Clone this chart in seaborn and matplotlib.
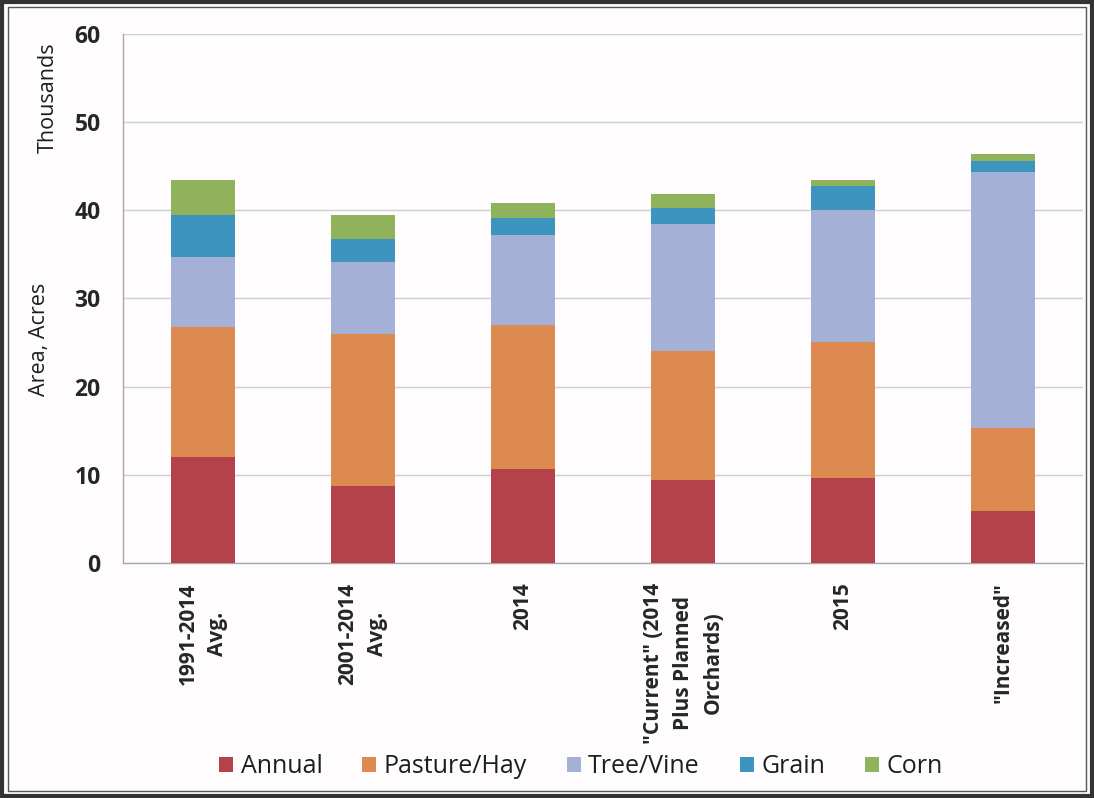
import matplotlib
matplotlib.use("Agg")
import matplotlib.pyplot as plt
import numpy as np
import pandas as pd
import seaborn as sns
from matplotlib.patches import Rectangle

# values in thousands of acres
categories = [
    "1991-2014\nAvg.",
    "2001-2014\nAvg.",
    "2014",
    "\"Current\" (2014\nPlus Planned\nOrchards)",
    "2015",
    "\"Increased\"",
]
annual = [12.0, 8.7, 10.7, 9.4, 9.6, 5.9]
pasture_hay = [14.8, 17.3, 16.3, 14.7, 15.5, 9.4]
tree_vine = [7.9, 8.1, 10.2, 14.4, 14.9, 29.0]
grain = [4.8, 2.7, 1.9, 1.8, 2.8, 1.3]
corn = [3.9, 2.7, 1.7, 1.5, 0.6, 0.8]

series = ["Annual", "Pasture/Hay", "Tree/Vine", "Grain", "Corn"]
colors = ["#b4424a", "#dc8a4f", "#a5b0d6", "#3d95bf", "#8fb25b"]

df = pd.DataFrame({
    "category": categories,
    "Annual": annual,
    "Pasture/Hay": pasture_hay,
    "Tree/Vine": tree_vine,
    "Grain": grain,
    "Corn": corn,
})
cum = df[series].cumsum(axis=1)

sns.set_theme(style="white")
plt.rcParams["font.family"] = ["Open Sans", "DejaVu Sans"]

fig = plt.figure(figsize=(10.94, 7.98), dpi=100, facecolor="#fefcfc")
ax = fig.add_axes([0.1124, 0.2945, 0.8776, 0.6629])
ax.set_facecolor("#fefcfc")

# stacked bars: draw running totals from the top layer down
for name, color in reversed(list(zip(series, colors))):
    sns.barplot(x=df["category"], y=cum[name], color=color, saturation=1,
                width=0.4, ax=ax, label=name, zorder=3, linewidth=0,
                edgecolor="none")

ax.set_ylim(0, 60)
ax.set_xlim(-0.5, len(categories) - 0.5)
ax.set_yticks(range(0, 61, 10))
ax.set_xlabel("")
ax.set_ylabel("")
ax.yaxis.grid(True, color="#cfcfcf", lw=1, zorder=0)
ax.xaxis.grid(False)

for s in ["top", "right"]:
    ax.spines[s].set_visible(False)
for s in ["left", "bottom"]:
    ax.spines[s].set_color("#a8a8a8")
    ax.spines[s].set_linewidth(1)

ax.tick_params(axis="y", length=7, color="#a8a8a8", width=1, pad=9,
               labelsize=16.5, labelcolor="#262626")
for lab in ax.get_yticklabels():
    lab.set_fontweight("bold")

ax.set_xticks(np.arange(len(categories)))
ax.set_xticklabels(categories, rotation=90, ha="center", va="top",
                   fontsize=15, fontweight="bold", color="#262626",
                   multialignment="center", linespacing=1.55)
ax.tick_params(axis="x", which="major", length=0, pad=14)
ax.set_xticks(np.arange(len(categories) + 1) - 0.5, minor=True)
ax.tick_params(axis="x", which="minor", length=6, color="#a8a8a8", width=1,
               direction="out")

fig.text(0.036, 0.575, "Area, Acres", rotation=90, ha="center", va="center",
         fontsize=15.5, color="#1e1e1e")
fig.text(0.044, 0.878, "Thousands", rotation=90, ha="center", va="center",
         fontsize=15.5, color="#1e1e1e")

handles, labels = ax.get_legend_handles_labels()
fig.legend(handles[::-1], labels[::-1], loc="center", ncol=5,
           bbox_to_anchor=(0.531, 0.039), frameon=False, fontsize=18,
           handlelength=0.55, handleheight=0.55, handletextpad=0.3,
           columnspacing=1.6, labelcolor="#1e1e1e")
if ax.get_legend() is not None:
    ax.get_legend().remove()

# double frame round the whole picture
fig.patches.append(Rectangle((0.002, 0.003), 0.996, 0.994, transform=fig.transFigure,
                             fill=False, lw=3, ec="#333333"))
fig.patches.append(Rectangle((0.0075, 0.009), 0.985, 0.982, transform=fig.transFigure,
                             fill=False, lw=1, ec="#555555"))

fig.savefig("out.png", dpi=100, facecolor=fig.get_facecolor())
